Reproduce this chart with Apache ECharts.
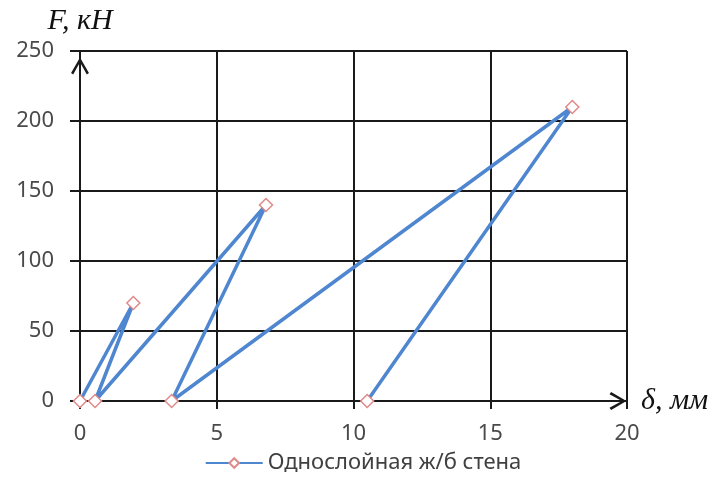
<!DOCTYPE html>
<html><head><meta charset="utf-8">
<script src="https://cdn.jsdelivr.net/npm/echarts@6/dist/echarts.min.js"></script>
<style>html,body{margin:0;padding:0;background:#fff}#c{width:726px;height:485px}</style>
</head><body><div id="c"></div>
<script>
var seriesName = 'Однослойная ж/б стена';
var deflection = [0, 1.95, 0.55, 6.8, 3.35, 18, 10.5];
var force = [0, 70, 0, 140, 0, 210, 0];
var xAxisName = 'δ, мм';
var yAxisName = 'F, кН';

var pts = deflection.map(function (d, i) { return [d, force[i]]; });
var chevron = 'path://M0 86 L50 0 L100 86 L88 95 L50 26 L12 95 Z';
var labelStyle = { color: '#4a4a4a', fontSize: 22, fontFamily: 'Noto Sans' };
var nameStyle = { color: '#111', fontSize: 30, fontStyle: 'italic', fontFamily: 'Liberation Serif' };

var chart = echarts.init(document.getElementById('c'));
chart.setOption({
  animation: false,
  grid: { left: 80, right: 99, top: 51, bottom: 84 },
  xAxis: {
    type: 'value', min: 0, max: 20, interval: 5,
    name: xAxisName, nameLocation: 'end', nameGap: 14,
    nameTextStyle: nameStyle,
    axisLine: { show: true, lineStyle: { color: '#1a1a1a', width: 2 }, symbol: ['none', chevron], symbolSize: [19, 17], symbolOffset: [0, -9] },
    axisTick: { show: true, inside: false, length: 8, lineStyle: { color: '#1a1a1a', width: 2 } },
    axisLabel: Object.assign({ margin: 22 }, labelStyle),
    splitLine: { show: true, lineStyle: { color: '#1a1a1a', width: 2 } }
  },
  yAxis: {
    type: 'value', min: 0, max: 250, interval: 50,
    name: yAxisName, nameLocation: 'end', nameGap: 15,
    nameTextStyle: Object.assign({ align: 'center' }, nameStyle),
    axisLine: { show: true, lineStyle: { color: '#1a1a1a', width: 2 }, symbol: ['none', chevron], symbolSize: [19, 17], symbolOffset: [0, -15] },
    axisTick: { show: true, inside: false, length: 10, lineStyle: { color: '#1a1a1a', width: 2 } },
    axisLabel: Object.assign({ margin: 26 }, labelStyle),
    splitLine: { show: true, lineStyle: { color: '#1a1a1a', width: 2 } }
  },
  legend: {
    bottom: 6, left: 'center',
    itemWidth: 57, itemHeight: 12, itemGap: 4,
    textStyle: { color: '#404040', fontSize: 22, fontFamily: 'Noto Sans' },
    data: [seriesName]
  },
  series: [{
    name: seriesName, type: 'line', data: pts,
    lineStyle: { color: '#4f86d0', width: 3.5 },
    itemStyle: { color: '#fff', borderColor: '#df8a88', borderWidth: 1.5 },
    symbol: 'diamond', symbolSize: 13, showAllSymbol: true
  }]
});
</script></body></html>
